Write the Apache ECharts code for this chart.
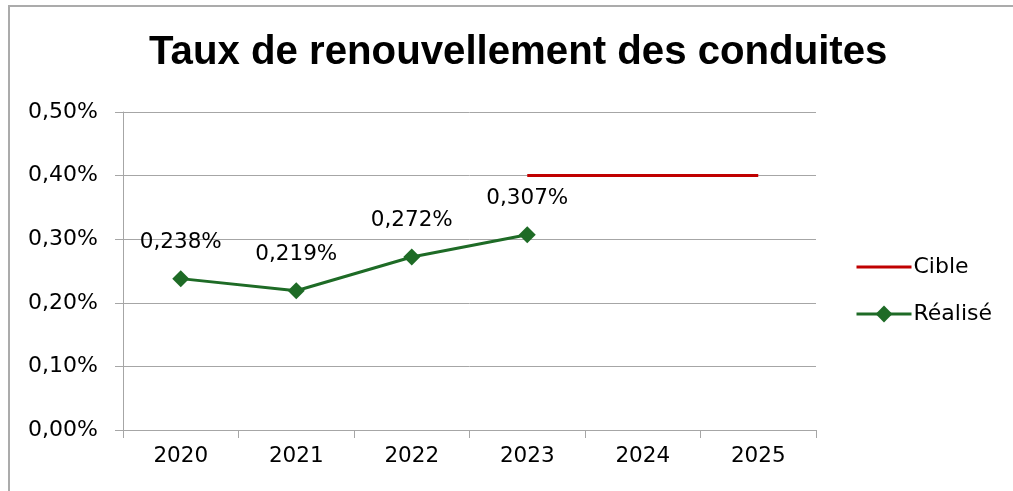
<!DOCTYPE html>
<html>
<head>
<meta charset="utf-8">
<script src="https://cdn.jsdelivr.net/npm/echarts@6/dist/echarts.min.js"></script>
<style>
  html, body { margin: 0; padding: 0; background: #fff; }
  #frame {
    position: absolute; left: 8px; top: 5px; width: 1004px; bottom: 0;
    border-top: 2px solid #ababab; border-left: 2px solid #ababab;
  }
  #chart { position: absolute; left: 0; top: 0; width: 1013px; height: 491px; }
</style>
</head>
<body>
<div id="frame"></div>
<div id="chart"></div>
<script>
// données
const years = ['2020', '2021', '2022', '2023', '2024', '2025'];
const cible = [null, null, null, 0.40, 0.40, 0.40];
const realise = [0.238, 0.219, 0.272, 0.307, null, null];

const fmtPct = (v, d) => v.toFixed(d).replace('.', ',') + '%';

const chart = echarts.init(document.getElementById('chart'));

const option = {
  animation: false,
  title: {
    text: 'Taux de renouvellement des conduites',
    left: 144,
    top: 28,
    textStyle: { fontFamily: 'Liberation Sans', fontSize: 40.2, fontWeight: 'bold', color: '#000' }
  },
  legend: {
    orient: 'vertical',
    left: 850,
    top: 251,
    itemWidth: 55,
    itemHeight: 21,
    itemGap: 25,
    data: [
      { name: 'Cible', itemStyle: { opacity: 0 } },
      { name: 'Réalisé' }
    ],
    lineStyle: { width: 3 },
    textStyle: { fontFamily: 'DejaVu Sans', fontSize: 22, color: '#000', padding: [0, 0, 0, -3] }
  },
  grid: { left: 123, right: 197, top: 112, bottom: 61, containLabel: false },
  xAxis: {
    type: 'category',
    data: years,
    boundaryGap: true,
    axisLine: { lineStyle: { color: '#a6a6a6', width: 1 } },
    axisTick: { show: true, length: 8, lineStyle: { color: '#a6a6a6' } },
    axisLabel: { fontFamily: 'DejaVu Sans', fontSize: 21.5, color: '#000', margin: 15 }
  },
  yAxis: {
    type: 'value',
    min: 0,
    max: 0.5,
    interval: 0.1,
    axisLine: { show: true, lineStyle: { color: '#a6a6a6', width: 1 } },
    axisTick: { show: true, length: 8, lineStyle: { color: '#a6a6a6' } },
    splitLine: { lineStyle: { color: '#a6a6a6', width: 1 } },
    axisLabel: {
      fontFamily: 'DejaVu Sans', fontSize: 22, color: '#000', margin: 25,
      formatter: v => fmtPct(v, 2)
    }
  },
  series: [
    {
      name: 'Cible',
      type: 'line',
      data: cible,
      symbol: 'none',
      color: '#c00000',
      lineStyle: { width: 3, color: '#c00000' }
    },
    {
      name: 'Réalisé',
      type: 'line',
      data: realise,
      symbol: 'diamond',
      symbolSize: 17,
      color: '#1e6b26',
      lineStyle: { width: 3, color: '#1e6b26' },
      itemStyle: { color: '#1e6b26' },
      label: {
        show: true,
        position: 'top',
        distance: 17,
        fontFamily: 'DejaVu Sans',
        fontSize: 21.5,
        color: '#000',
        formatter: p => fmtPct(p.value, 3)
      }
    }
  ]
};

chart.setOption(option);
</script>
</body>
</html>
